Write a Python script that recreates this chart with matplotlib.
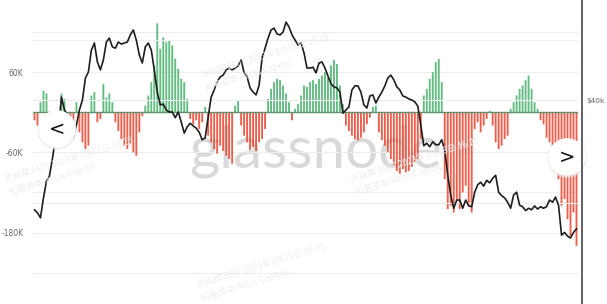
import numpy as np
import matplotlib.pyplot as plt
from matplotlib.patches import Circle

# net position change (K BTC), one bar every 4 days, Dec 2020 -> Dec 2022
bar_vals = [
    -12, -20, 15, 32, 28, -15, -25, -32, -8, 28,
    20, -35, -42, -25, 15, -30, -45, -55, -50, 25,
    30, -15, -10, 42, 22, 28, 15, -15, -28, -40,
    -50, -55, -48, -60, -65, -30, -6, 10, 25, 45,
    70, 133, 95, 112, 105, 108, 100, 80, 65, 50,
    45, 20, -10, -18, -12, -25, -15, 8, -35, -45,
    -55, -62, -50, -58, -65, -70, -77, 10, 18, -20,
    -35, -45, -57, -52, -58, -45, -40, -25, 20, 35,
    45, 50, 48, 40, 28, 15, -12, 5, 12, 25,
    40, 38, 45, 48, 42, 50, 55, 60, 52, 70,
    78, 72, 40, 12, -20, -28, -35, -40, -42, -38,
    -30, -18, -8, 8, 10, -30, -42, -50, -60, -70,
    -80, -88, -92, -85, -90, -88, -82, -75, -70, -40,
    25, 35, 50, 60, 75, 80, 45, -100, -145, -140,
    -150, -130, -145, -120, -110, -140, -150, -25, -15, -30,
    -20, -10, 2, -20, -45, -55, -50, -40, -35, 5,
    15, 25, 35, 40, 48, 55, 35, 15, 5, -12,
    -18, -38, -45, -55, -60, -100, -140, -130, -160, -185,
    -150, -200,
]

# BTC price ($k) at the same dates
price_k = [
    19.1, 18.7, 18.1, 20.7, 23.2, 24.0, 27.0, 31.0, 33.1, 40.8,
    37.4, 36.2, 31.6, 31.0, 33.8, 37.4, 40.0, 46.4, 48.3, 56.0,
    58.7, 51.7, 49.0, 52.4, 59.1, 60.7, 57.2, 56.7, 59.1, 58.3,
    58.7, 59.1, 62.0, 64.1, 59.9, 54.2, 51.3, 57.2, 58.7, 56.0,
    49.0, 42.2, 38.7, 38.9, 37.4, 36.9, 36.9, 35.5, 36.9, 34.5,
    32.0, 33.4, 34.2, 33.6, 33.1, 32.2, 30.6, 31.0, 35.7, 40.8,
    42.8, 45.2, 46.7, 47.3, 49.0, 49.6, 49.0, 49.6, 50.3, 52.4,
    48.0, 46.7, 43.4, 42.2, 41.4, 44.2, 53.1, 56.7, 60.7, 64.1,
    64.9, 62.4, 62.0, 63.2, 67.6, 65.4, 62.0, 59.9, 57.9, 58.7,
    54.9, 49.6, 49.6, 49.9, 48.0, 51.3, 51.7, 49.6, 47.0, 44.6,
    43.7, 43.4, 42.2, 36.6, 37.4, 38.2, 42.8, 44.0, 44.0, 42.2,
    38.7, 37.9, 41.1, 41.4, 39.2, 40.8, 42.2, 44.0, 46.4, 47.3,
    45.8, 43.7, 42.8, 41.1, 40.8, 40.3, 40.0, 39.5, 38.4, 33.8,
    29.4, 29.9, 29.2, 30.2, 29.6, 29.6, 30.6, 28.6, 24.1, 21.1,
    19.3, 20.4, 20.4, 19.3, 20.4, 19.6, 19.5, 21.5, 22.6, 23.0,
    22.4, 23.3, 22.9, 23.6, 24.1, 21.5, 21.0, 20.7, 20.1, 19.3,
    21.1, 21.5, 19.7, 19.5, 19.0, 19.3, 19.1, 19.6, 19.2, 19.5,
    19.3, 19.5, 20.4, 20.1, 20.8, 19.7, 16.1, 16.4, 16.0, 15.8,
    16.4, 16.8,
]

left_ticks = [-240, -180, -120, -60, 0, 60, 120]
left_labels = ['', '-180K', '', '-60K', '', '60K', '']
right_ticks = [20, 40, 60]
right_labels = ['', '$40k', '']

days = np.arange(len(bar_vals)) * 4
vals = np.array(bar_vals, dtype=float)
cols = np.where(vals >= 0, '#46b06a', '#e8432d')

fig = plt.figure(figsize=(6.07, 3.04), dpi=100)
fig.patch.set_facecolor('white')

# background layer with the big watermark
bg = fig.add_axes([0, 0, 1, 1], zorder=0)
bg.set_xlim(0, 607)
bg.set_ylim(304, 0)
bg.axis('off')
bg.text(316, 167, 'glassnode', fontsize=42, color='#d9d9d9', ha='center',
        va='baseline', family='Lato')

ax = fig.add_axes([33 / 607, 14 / 304, 545 / 607, 275 / 304], zorder=1)
ax.patch.set_visible(False)
bars = ax.bar(days, vals, width=2.5, color=cols, alpha=0.85, linewidth=0)
for b in bars:
    b.set_snap(False)
ax.axhline(0, color='#62906e', lw=1.0, zorder=3)
ax.set_xlim(days[0] - 2, days[-1] + 2)
ax.set_ylim(-266, 145.5)
ax.set_yticks(left_ticks)
ax.set_yticklabels(left_labels)
ax.grid(axis='y', color='#ededed', lw=0.8)
ax.set_axisbelow(True)
ax.tick_params(axis='y', length=0, pad=7, labelsize=5.5, labelcolor='#666666')
ax.tick_params(axis='x', length=0, labelbottom=False)
for s in ax.spines.values():
    s.set_visible(False)

ax2 = ax.twinx()
ax2.set_zorder(2)
ax2.patch.set_visible(False)
ax2.plot(days, price_k, color='#1e1e1e', lw=1.2)
ax2.set_yscale('log')
ax2.set_ylim(11.13, 70.9)
ax2.set_yticks(right_ticks)
ax2.set_yticklabels(right_labels)
ax2.minorticks_off()
ax2.grid(axis='y', color='#ededed', lw=0.8)
ax2.tick_params(axis='y', length=0, pad=6, labelsize=5.3, labelcolor='#666666')
for s in ax2.spines.values():
    s.set_visible(False)

# top layer: faint screenshot watermarks, nav buttons, right border
top = fig.add_axes([0, 0, 1, 1], zorder=3)
top.set_xlim(0, 607)
top.set_ylim(304, 0)
top.axis('off')
cjk = ['Noto Sans CJK SC', 'DejaVu Sans']
for wx, wy in [(200, 78), (4, 182), (196, 288), (350, 182)]:
    top.text(wx, wy, '许铭辉 8607 2023年3月23日 16:25', fontsize=6.3, color='#eeeeee',
             rotation=17, family=cjk, ha='left', va='baseline')
    top.text(wx + 4, wy + 13, '知春资本/Atlas Capital', fontsize=6.3, color='#eeeeee',
             rotation=17, family=cjk, ha='left', va='baseline')

top.plot([582, 582], [0, 304], color='#555555', lw=1.3)

for cx, cy, sym in [(57, 129, '<'), (567, 157, '>')]:
    top.add_patch(Circle((cx, cy + 1), 19, color='#e8e8e8', alpha=0.6))
    top.add_patch(Circle((cx, cy), 18, color='white'))
    top.text(cx, cy, sym, fontsize=14, color='#111111', ha='center', va='center')

fig.savefig('out.png', dpi=100, facecolor='white')
